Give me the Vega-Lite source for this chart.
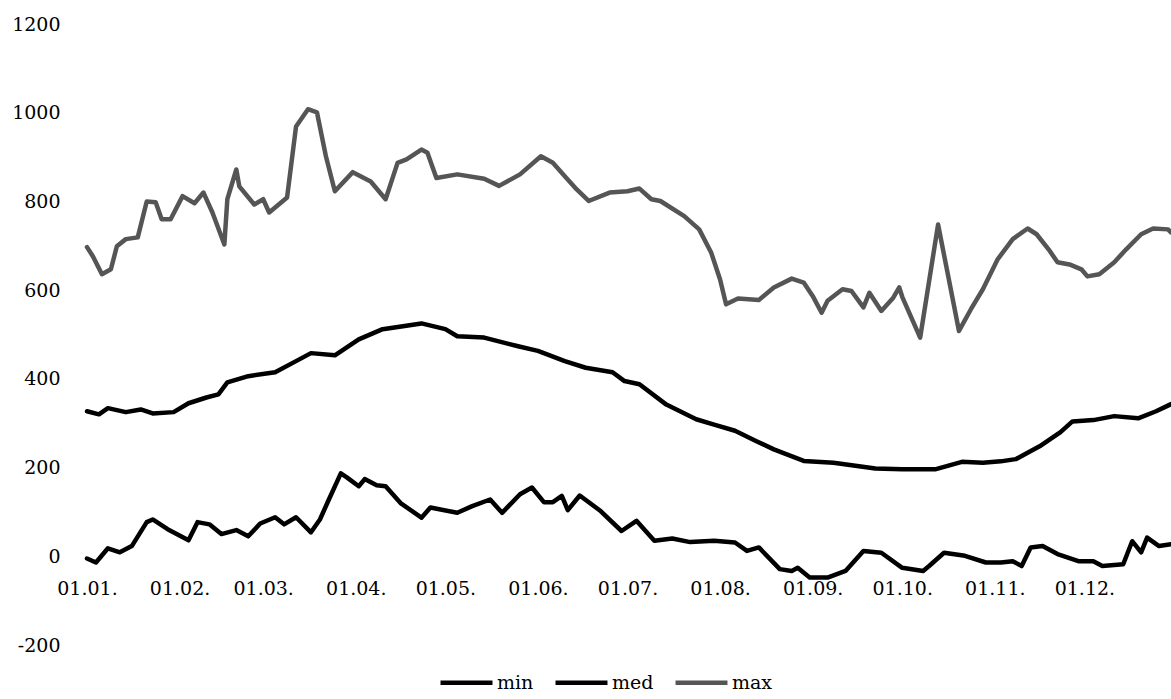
{
  "$schema": "https://vega.github.io/schema/vega-lite/v6.json",
  "width": 1084,
  "height": 621,
  "autosize": {"type": "none"},
  "padding": {"left": 87, "top": 24, "right": 0, "bottom": 54},
  "background": "white",
  "config": {"view": {"stroke": null}},
  "data": {"values": [
    {"date":"2019-01-01T00:00","series":"max","value":697},
    {"date":"2019-01-03T00:00","series":"max","value":676},
    {"date":"2019-01-06T00:00","series":"max","value":636},
    {"date":"2019-01-09T00:00","series":"max","value":647},
    {"date":"2019-01-11T00:00","series":"max","value":699},
    {"date":"2019-01-14T00:00","series":"max","value":715},
    {"date":"2019-01-18T00:00","series":"max","value":719},
    {"date":"2019-01-21T00:00","series":"max","value":800},
    {"date":"2019-01-24T00:00","series":"max","value":798},
    {"date":"2019-01-26T00:00","series":"max","value":760},
    {"date":"2019-01-29T00:00","series":"max","value":760},
    {"date":"2019-02-02T00:00","series":"max","value":812},
    {"date":"2019-02-06T00:00","series":"max","value":796},
    {"date":"2019-02-09T00:00","series":"max","value":820},
    {"date":"2019-02-12T00:00","series":"max","value":775},
    {"date":"2019-02-16T00:00","series":"max","value":703},
    {"date":"2019-02-17T00:00","series":"max","value":805},
    {"date":"2019-02-20T00:00","series":"max","value":872},
    {"date":"2019-02-21T00:00","series":"max","value":834},
    {"date":"2019-02-26T00:00","series":"max","value":793},
    {"date":"2019-03-01T00:00","series":"max","value":805},
    {"date":"2019-03-03T00:00","series":"max","value":775},
    {"date":"2019-03-09T00:00","series":"max","value":809},
    {"date":"2019-03-12T00:00","series":"max","value":969},
    {"date":"2019-03-16T00:00","series":"max","value":1008},
    {"date":"2019-03-19T00:00","series":"max","value":1001},
    {"date":"2019-03-22T00:00","series":"max","value":902},
    {"date":"2019-03-25T00:00","series":"max","value":823},
    {"date":"2019-03-31T00:00","series":"max","value":866},
    {"date":"2019-04-06T00:00","series":"max","value":845},
    {"date":"2019-04-11T00:00","series":"max","value":805},
    {"date":"2019-04-15T00:00","series":"max","value":887},
    {"date":"2019-04-18T00:00","series":"max","value":895},
    {"date":"2019-04-23T00:00","series":"max","value":917},
    {"date":"2019-04-25T00:00","series":"max","value":910},
    {"date":"2019-04-28T00:00","series":"max","value":853},
    {"date":"2019-05-05T00:00","series":"max","value":861},
    {"date":"2019-05-14T00:00","series":"max","value":851},
    {"date":"2019-05-19T00:00","series":"max","value":835},
    {"date":"2019-05-26T00:00","series":"max","value":861},
    {"date":"2019-06-02T00:00","series":"max","value":902},
    {"date":"2019-06-06T00:00","series":"max","value":887},
    {"date":"2019-06-10T00:00","series":"max","value":857},
    {"date":"2019-06-14T00:00","series":"max","value":827},
    {"date":"2019-06-18T00:00","series":"max","value":801},
    {"date":"2019-06-25T00:00","series":"max","value":820},
    {"date":"2019-07-01T00:00","series":"max","value":823},
    {"date":"2019-07-05T00:00","series":"max","value":829},
    {"date":"2019-07-09T00:00","series":"max","value":805},
    {"date":"2019-07-12T00:00","series":"max","value":801},
    {"date":"2019-07-20T00:00","series":"max","value":767},
    {"date":"2019-07-25T00:00","series":"max","value":737},
    {"date":"2019-07-29T00:00","series":"max","value":685},
    {"date":"2019-08-01T00:00","series":"max","value":624},
    {"date":"2019-08-03T00:00","series":"max","value":568},
    {"date":"2019-08-07T00:00","series":"max","value":581},
    {"date":"2019-08-14T00:00","series":"max","value":578},
    {"date":"2019-08-19T00:00","series":"max","value":606},
    {"date":"2019-08-25T00:00","series":"max","value":626},
    {"date":"2019-08-29T00:00","series":"max","value":617},
    {"date":"2019-09-01T00:00","series":"max","value":587},
    {"date":"2019-09-04T00:00","series":"max","value":549},
    {"date":"2019-09-06T00:00","series":"max","value":576},
    {"date":"2019-09-11T00:00","series":"max","value":602},
    {"date":"2019-09-14T00:00","series":"max","value":598},
    {"date":"2019-09-18T00:00","series":"max","value":561},
    {"date":"2019-09-20T00:00","series":"max","value":594},
    {"date":"2019-09-24T00:00","series":"max","value":553},
    {"date":"2019-09-28T00:00","series":"max","value":583},
    {"date":"2019-09-30T00:00","series":"max","value":606},
    {"date":"2019-10-01T00:00","series":"max","value":585},
    {"date":"2019-10-07T00:00","series":"max","value":493},
    {"date":"2019-10-13T00:00","series":"max","value":748},
    {"date":"2019-10-20T00:00","series":"max","value":508},
    {"date":"2019-10-24T00:00","series":"max","value":557},
    {"date":"2019-10-28T00:00","series":"max","value":602},
    {"date":"2019-11-02T00:00","series":"max","value":670},
    {"date":"2019-11-07T00:00","series":"max","value":715},
    {"date":"2019-11-12T00:00","series":"max","value":739},
    {"date":"2019-11-15T00:00","series":"max","value":726},
    {"date":"2019-11-19T00:00","series":"max","value":692},
    {"date":"2019-11-22T00:00","series":"max","value":663},
    {"date":"2019-11-26T00:00","series":"max","value":658},
    {"date":"2019-11-30T00:00","series":"max","value":647},
    {"date":"2019-12-02T00:00","series":"max","value":631},
    {"date":"2019-12-06T00:00","series":"max","value":636},
    {"date":"2019-12-11T00:00","series":"max","value":663},
    {"date":"2019-12-15T00:00","series":"max","value":692},
    {"date":"2019-12-20T00:00","series":"max","value":726},
    {"date":"2019-12-24T00:00","series":"max","value":739},
    {"date":"2019-12-29T00:00","series":"max","value":737},
    {"date":"2019-12-30T00:00","series":"max","value":730},

    {"date":"2019-01-01T00:00","series":"med","value":327},
    {"date":"2019-01-05T00:00","series":"med","value":320},
    {"date":"2019-01-08T00:00","series":"med","value":334},
    {"date":"2019-01-14T00:00","series":"med","value":325},
    {"date":"2019-01-19T00:00","series":"med","value":331},
    {"date":"2019-01-23T00:00","series":"med","value":322},
    {"date":"2019-01-30T00:00","series":"med","value":325},
    {"date":"2019-02-04T00:00","series":"med","value":345},
    {"date":"2019-02-10T00:00","series":"med","value":358},
    {"date":"2019-02-14T00:00","series":"med","value":365},
    {"date":"2019-02-17T00:00","series":"med","value":392},
    {"date":"2019-02-24T00:00","series":"med","value":406},
    {"date":"2019-03-05T00:00","series":"med","value":415},
    {"date":"2019-03-12T00:00","series":"med","value":440},
    {"date":"2019-03-17T00:00","series":"med","value":458},
    {"date":"2019-03-25T00:00","series":"med","value":453},
    {"date":"2019-04-02T00:00","series":"med","value":489},
    {"date":"2019-04-10T00:00","series":"med","value":512},
    {"date":"2019-04-23T00:00","series":"med","value":525},
    {"date":"2019-05-01T00:00","series":"med","value":512},
    {"date":"2019-05-05T00:00","series":"med","value":496},
    {"date":"2019-05-14T00:00","series":"med","value":493},
    {"date":"2019-05-25T00:00","series":"med","value":474},
    {"date":"2019-06-01T00:00","series":"med","value":463},
    {"date":"2019-06-10T00:00","series":"med","value":440},
    {"date":"2019-06-17T00:00","series":"med","value":425},
    {"date":"2019-06-26T00:00","series":"med","value":415},
    {"date":"2019-06-30T00:00","series":"med","value":395},
    {"date":"2019-07-05T00:00","series":"med","value":388},
    {"date":"2019-07-14T00:00","series":"med","value":342},
    {"date":"2019-07-24T00:00","series":"med","value":309},
    {"date":"2019-07-30T00:00","series":"med","value":297},
    {"date":"2019-08-06T00:00","series":"med","value":283},
    {"date":"2019-08-13T00:00","series":"med","value":260},
    {"date":"2019-08-19T00:00","series":"med","value":241},
    {"date":"2019-08-29T00:00","series":"med","value":215},
    {"date":"2019-09-08T00:00","series":"med","value":211},
    {"date":"2019-09-22T00:00","series":"med","value":198},
    {"date":"2019-10-01T00:00","series":"med","value":196},
    {"date":"2019-10-12T00:00","series":"med","value":196},
    {"date":"2019-10-21T00:00","series":"med","value":213},
    {"date":"2019-10-28T00:00","series":"med","value":211},
    {"date":"2019-11-03T00:00","series":"med","value":214},
    {"date":"2019-11-08T00:00","series":"med","value":219},
    {"date":"2019-11-16T00:00","series":"med","value":248},
    {"date":"2019-11-23T00:00","series":"med","value":280},
    {"date":"2019-11-27T00:00","series":"med","value":304},
    {"date":"2019-12-04T00:00","series":"med","value":307},
    {"date":"2019-12-11T00:00","series":"med","value":316},
    {"date":"2019-12-19T00:00","series":"med","value":311},
    {"date":"2019-12-25T00:00","series":"med","value":327},
    {"date":"2019-12-30T00:00","series":"med","value":343},

    {"date":"2019-01-01T00:00","series":"min","value":-5},
    {"date":"2019-01-04T00:00","series":"min","value":-14},
    {"date":"2019-01-08T00:00","series":"min","value":18},
    {"date":"2019-01-12T00:00","series":"min","value":9},
    {"date":"2019-01-16T00:00","series":"min","value":23},
    {"date":"2019-01-21T00:00","series":"min","value":77},
    {"date":"2019-01-23T00:00","series":"min","value":83},
    {"date":"2019-01-28T00:00","series":"min","value":61},
    {"date":"2019-02-04T00:00","series":"min","value":36},
    {"date":"2019-02-07T00:00","series":"min","value":77},
    {"date":"2019-02-11T00:00","series":"min","value":72},
    {"date":"2019-02-15T00:00","series":"min","value":50},
    {"date":"2019-02-20T00:00","series":"min","value":59},
    {"date":"2019-02-24T00:00","series":"min","value":45},
    {"date":"2019-02-28T00:00","series":"min","value":74},
    {"date":"2019-03-05T00:00","series":"min","value":88},
    {"date":"2019-03-08T00:00","series":"min","value":72},
    {"date":"2019-03-12T00:00","series":"min","value":88},
    {"date":"2019-03-17T00:00","series":"min","value":54},
    {"date":"2019-03-20T00:00","series":"min","value":83},
    {"date":"2019-03-23T00:00","series":"min","value":128},
    {"date":"2019-03-27T00:00","series":"min","value":187},
    {"date":"2019-03-29T00:00","series":"min","value":178},
    {"date":"2019-04-02T00:00","series":"min","value":158},
    {"date":"2019-04-04T00:00","series":"min","value":174},
    {"date":"2019-04-08T00:00","series":"min","value":160},
    {"date":"2019-04-11T00:00","series":"min","value":158},
    {"date":"2019-04-16T00:00","series":"min","value":120},
    {"date":"2019-04-23T00:00","series":"min","value":87},
    {"date":"2019-04-26T00:00","series":"min","value":110},
    {"date":"2019-05-05T00:00","series":"min","value":98},
    {"date":"2019-05-10T00:00","series":"min","value":113},
    {"date":"2019-05-16T00:00","series":"min","value":128},
    {"date":"2019-05-20T00:00","series":"min","value":98},
    {"date":"2019-05-26T00:00","series":"min","value":140},
    {"date":"2019-05-30T00:00","series":"min","value":155},
    {"date":"2019-06-03T00:00","series":"min","value":122},
    {"date":"2019-06-06T00:00","series":"min","value":122},
    {"date":"2019-06-09T00:00","series":"min","value":136},
    {"date":"2019-06-11T00:00","series":"min","value":104},
    {"date":"2019-06-15T00:00","series":"min","value":137},
    {"date":"2019-06-22T00:00","series":"min","value":102},
    {"date":"2019-06-29T00:00","series":"min","value":57},
    {"date":"2019-07-04T00:00","series":"min","value":80},
    {"date":"2019-07-10T00:00","series":"min","value":35},
    {"date":"2019-07-16T00:00","series":"min","value":40},
    {"date":"2019-07-22T00:00","series":"min","value":32},
    {"date":"2019-07-30T00:00","series":"min","value":35},
    {"date":"2019-08-06T00:00","series":"min","value":31},
    {"date":"2019-08-10T00:00","series":"min","value":12},
    {"date":"2019-08-14T00:00","series":"min","value":20},
    {"date":"2019-08-21T00:00","series":"min","value":-29},
    {"date":"2019-08-25T00:00","series":"min","value":-33},
    {"date":"2019-08-27T00:00","series":"min","value":-26},
    {"date":"2019-08-31T00:00","series":"min","value":-48},
    {"date":"2019-09-06T00:00","series":"min","value":-48},
    {"date":"2019-09-12T00:00","series":"min","value":-33},
    {"date":"2019-09-18T00:00","series":"min","value":12},
    {"date":"2019-09-24T00:00","series":"min","value":8},
    {"date":"2019-10-01T00:00","series":"min","value":-26},
    {"date":"2019-10-08T00:00","series":"min","value":-33},
    {"date":"2019-10-10T00:00","series":"min","value":-22},
    {"date":"2019-10-15T00:00","series":"min","value":8},
    {"date":"2019-10-22T00:00","series":"min","value":1},
    {"date":"2019-10-29T00:00","series":"min","value":-14},
    {"date":"2019-11-03T00:00","series":"min","value":-14},
    {"date":"2019-11-07T00:00","series":"min","value":-11},
    {"date":"2019-11-10T00:00","series":"min","value":-22},
    {"date":"2019-11-13T00:00","series":"min","value":20},
    {"date":"2019-11-17T00:00","series":"min","value":23},
    {"date":"2019-11-22T00:00","series":"min","value":5},
    {"date":"2019-11-29T00:00","series":"min","value":-11},
    {"date":"2019-12-04T00:00","series":"min","value":-11},
    {"date":"2019-12-07T00:00","series":"min","value":-22},
    {"date":"2019-12-14T00:00","series":"min","value":-18},
    {"date":"2019-12-17T00:00","series":"min","value":34},
    {"date":"2019-12-20T00:00","series":"min","value":9},
    {"date":"2019-12-22T00:00","series":"min","value":42},
    {"date":"2019-12-26T00:00","series":"min","value":23},
    {"date":"2019-12-30T00:00","series":"min","value":27}
  ]},
  "mark": {"type": "line", "strokeJoin": "round", "strokeCap": "round"},
  "encoding": {
    "x": {
      "field": "date", "type": "temporal",
      "scale": {"domain": [{"year": 2019, "month": 1, "date": 1}, {"year": 2019, "month": 12, "date": 30}]},
      "axis": {
        "title": null, "grid": false, "domain": false, "ticks": false, "tickSize": 0,
        "format": "%d.%m.", "labelAngle": 0, "labelFont": "DejaVu Serif", "labelFontSize": 19,
        "labelColor": "#000", "labelPadding": 22, "offset": -88, "labelFlush": false, "labelOverlap": false,
        "values": [
          {"year": 2019, "month": 1, "date": 1}, {"year": 2019, "month": 2, "date": 1},
          {"year": 2019, "month": 3, "date": 1}, {"year": 2019, "month": 4, "date": 1},
          {"year": 2019, "month": 5, "date": 1}, {"year": 2019, "month": 6, "date": 1},
          {"year": 2019, "month": 7, "date": 1}, {"year": 2019, "month": 8, "date": 1},
          {"year": 2019, "month": 9, "date": 1}, {"year": 2019, "month": 10, "date": 1},
          {"year": 2019, "month": 11, "date": 1}, {"year": 2019, "month": 12, "date": 1}
        ]
      }
    },
    "y": {
      "field": "value", "type": "quantitative",
      "scale": {"domain": [-200, 1200], "nice": false, "zero": false},
      "axis": {
        "title": null, "grid": false, "domain": false, "ticks": false, "tickSize": 0,
        "values": [-200, 0, 200, 400, 600, 800, 1000, 1200],
        "labelExpr": "'' + datum.value",
        "labelFont": "DejaVu Serif", "labelFontSize": 19, "labelColor": "#000", "labelPadding": 27
      }
    },
    "color": {
      "field": "series", "type": "nominal",
      "scale": {"domain": ["min", "med", "max"], "range": ["#000000", "#000000", "#555555"]},
      "legend": {
        "title": null, "orient": "none", "direction": "horizontal", "legendX": 351, "legendY": 630,
        "symbolType": "stroke", "symbolSize": 2700, "labelFont": "DejaVu Serif", "labelFontSize": 19,
        "labelColor": "#000", "labelOffset": 2, "columnPadding": 12
      }
    },
    "strokeWidth": {
      "field": "series", "type": "nominal",
      "scale": {"domain": ["min", "med", "max"], "range": [4.5, 4.5, 2.3]},
      "legend": {
        "title": null, "orient": "none", "direction": "horizontal", "legendX": 351, "legendY": 630,
        "symbolType": "stroke", "symbolSize": 2700, "labelFont": "DejaVu Serif", "labelFontSize": 19,
        "labelColor": "#000", "labelOffset": 2, "columnPadding": 12
      }
    }
  }
}
